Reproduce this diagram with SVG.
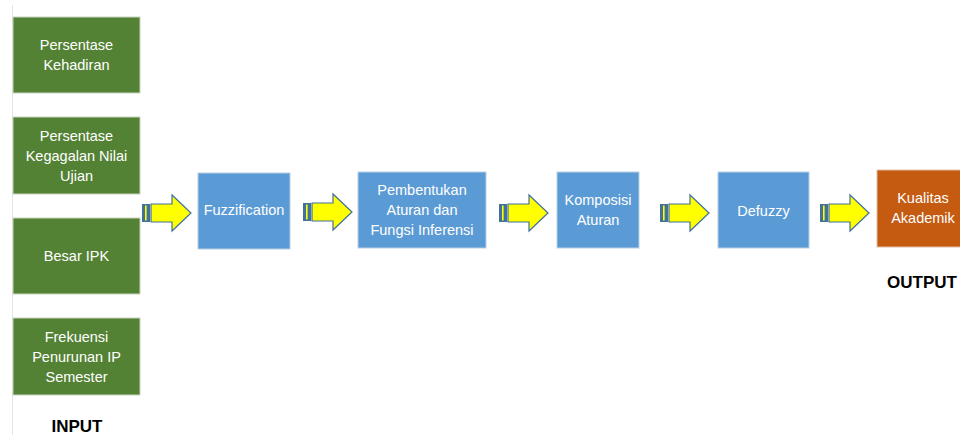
<svg xmlns="http://www.w3.org/2000/svg" width="960" height="435" viewBox="0 0 960 435">
<style>
.g{fill:#548235;stroke:#c9d3c2;stroke-width:1}
.b{fill:#5B9BD5;stroke:#b9cfe4;stroke-width:1}
.o{fill:#C55A11;stroke:#e0c0a8;stroke-width:1}
.t{font-family:"Liberation Sans",Arial,sans-serif;font-size:14.5px;fill:#ffffff;text-anchor:middle}
.h{font-family:"Liberation Sans",Arial,sans-serif;font-size:17px;font-weight:bold;fill:#000000;text-anchor:middle}
.ab{fill:#FFFF00;stroke:#41719C;stroke-width:1.2}
.sb{fill:#41719C}
.sy{fill:#FFFF00}
</style>
<defs>
<g id="arr">
<rect class="sb" x="0" y="-9" width="8" height="18"/>
<rect class="sy" x="3" y="-7.5" width="1.6" height="15"/>
<path class="ab" d="M9,-9 H30 V-18 L49,0 L30,18 V9 H9 Z"/>
</g>
</defs>
<rect width="960" height="435" fill="#ffffff"/>
<line x1="12.5" y1="5" x2="12.5" y2="435" stroke="#e3e3e3" stroke-width="1"/>
<g id="connectors">
<use href="#arr" x="142" y="213"/>
<use href="#arr" x="303" y="212"/>
<use href="#arr" x="499" y="213"/>
<use href="#arr" x="660" y="213"/>
<use href="#arr" x="820" y="213"/>
</g>
<g id="n1"><rect class="g" x="13" y="17" width="127" height="76"/><text class="t" x="76.5" y="50">Persentase</text><text class="t" x="76.5" y="70">Kehadiran</text></g>
<g id="n2"><rect class="g" x="13" y="117" width="127" height="77"/><text class="t" x="76.5" y="141">Persentase</text><text class="t" x="76.5" y="161">Kegagalan Nilai</text><text class="t" x="76.5" y="181">Ujian</text></g>
<g id="n3"><rect class="g" x="13" y="218" width="127" height="76"/><text class="t" x="76.5" y="261">Besar IPK</text></g>
<g id="n4"><rect class="g" x="13" y="318" width="127" height="77"/><text class="t" x="76.5" y="342">Frekuensi</text><text class="t" x="76.5" y="362">Penurunan IP</text><text class="t" x="76.5" y="382">Semester</text></g>
<g id="input"><text class="h" x="77" y="432">INPUT</text></g>
<g id="n5"><rect class="b" x="198" y="173" width="92" height="76"/><text class="t" x="244" y="215">Fuzzification</text></g>
<g id="n6"><rect class="b" x="358" y="172" width="128" height="76"/><text class="t" x="422" y="195">Pembentukan</text><text class="t" x="422" y="215">Aturan dan</text><text class="t" x="422" y="235">Fungsi Inferensi</text></g>
<g id="n7"><rect class="b" x="557" y="172" width="82" height="76"/><text class="t" x="598" y="205">Komposisi</text><text class="t" x="598" y="225">Aturan</text></g>
<g id="n8"><rect class="b" x="718" y="172" width="91" height="76"/><text class="t" x="763.5" y="216">Defuzzy</text></g>
<g id="n9"><rect class="o" x="877" y="170" width="92" height="77"/><text class="t" x="923" y="203">Kualitas</text><text class="t" x="923" y="223">Akademik</text></g>
<g id="output"><text class="h" x="922" y="288">OUTPUT</text></g>
</svg>
